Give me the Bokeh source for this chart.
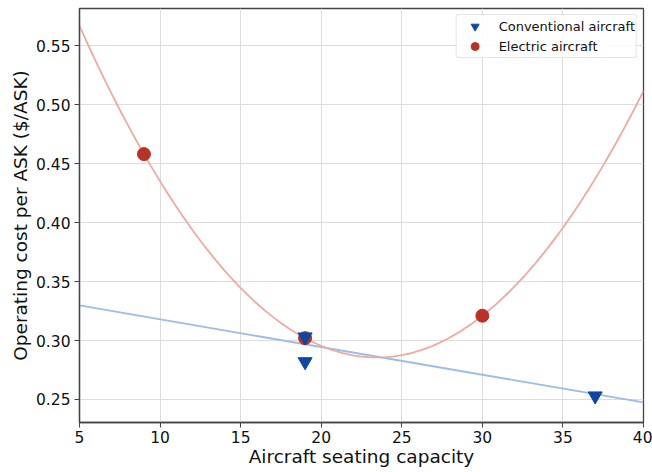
import numpy as np
from bokeh.plotting import figure
from bokeh.models import FixedTicker, NumeralTickFormatter, Legend, LegendItem, Range1d
from bokeh.embed import file_html
from bokeh.resources import INLINE

# Data
conv_x = [19, 19, 37]
conv_y = [0.303, 0.282, 0.253]
elec_x = [9, 19, 30]
elec_y = [0.458, 0.302, 0.321]
# conventional trend line endpoints (as drawn)
conv_fit_x = [5, 40]
conv_fit_y = [0.3297, 0.2475]
x_ticks = [5, 10, 15, 20, 25, 30, 35, 40]
y_ticks = [0.25, 0.30, 0.35, 0.40, 0.45, 0.50, 0.55]

# quadratic trend through electric aircraft points
coef = np.polyfit(elec_x, elec_y, 2)
curve_x = np.linspace(5, 40, 200)
curve_y = np.polyval(coef, curve_x)

FONT = "DejaVu Sans"

p = figure(frame_width=564, frame_height=414, output_backend="svg", toolbar_location=None,
           x_range=Range1d(5, 40), y_range=Range1d(0.2305, 0.5814),
           min_border_left=79, min_border_right=9, min_border_top=8, min_border_bottom=50)

p.outline_line_color = "#444444"
p.outline_line_width = 1.3
p.background_fill_color = "white"
p.border_fill_color = "white"

for ax in (p.xaxis[0], p.yaxis[0]):
    ax.axis_line_color = "#444444"
    ax.axis_line_width = 1.3
    ax.major_tick_line_color = "#444444"
    ax.major_tick_in = 0
    ax.major_tick_out = 5
    ax.minor_tick_line_color = None
    ax.major_label_text_font = FONT
    ax.major_label_text_font_size = "15.5px"
    ax.major_label_text_color = "#111111"
    ax.axis_label_text_font = FONT
    ax.axis_label_text_font_size = "18.5px"
    ax.axis_label_text_font_style = "normal"
    ax.axis_label_text_color = "#111111"

p.xaxis.ticker = FixedTicker(ticks=x_ticks)
p.yaxis.ticker = FixedTicker(ticks=y_ticks)
p.yaxis.formatter = NumeralTickFormatter(format="0.00")
p.xaxis.axis_label = "Aircraft seating capacity"
p.yaxis.axis_label = "Operating cost per ASK ($/ASK)"
p.xaxis.major_label_standoff = 3
p.yaxis.major_label_standoff = 4
p.xaxis.axis_label_standoff = 0
p.yaxis.axis_label_standoff = 2

p.xgrid.grid_line_color = "#dddddd"
p.ygrid.grid_line_color = "#dddddd"
p.xgrid.grid_line_width = 1
p.ygrid.grid_line_width = 1

p.line(conv_fit_x, conv_fit_y, line_color="#9dbbe8", line_width=1.8)
p.line(curve_x, curve_y, line_color="#ebaba3", line_width=1.8)

r_elec = p.scatter(elec_x, elec_y, marker="circle", size=13,
                   fill_color="#b83227", line_color="#b83227")
r_conv = p.scatter(conv_x, conv_y, marker="inverted_triangle", size=14,
                   fill_color="#0d47a1", line_color="#0d47a1")

legend = Legend(items=[LegendItem(label="Conventional aircraft", renderers=[r_conv]),
                       LegendItem(label="Electric aircraft", renderers=[r_elec])],
                location="top_right")
legend.margin = 6
legend.padding = 1
legend.spacing = 0
legend.glyph_width = 34
legend.glyph_height = 20
legend.label_height = 20
legend.label_standoff = 7
legend.label_text_font = FONT
legend.label_text_font_size = "13px"
legend.label_text_color = "#111111"
legend.border_line_color = "#cccccc"
legend.border_line_width = 1
legend.border_radius = 3
legend.background_fill_alpha = 0.85
p.add_layout(legend)

open("out.html", "w").write(file_html(p, INLINE))
